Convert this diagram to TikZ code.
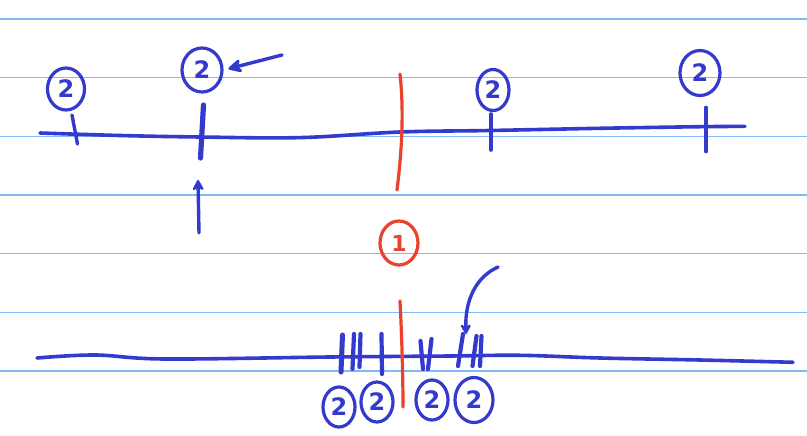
\documentclass[tikz,border=0pt]{standalone}
\usepackage{fontspec}
\setmainfont{DejaVu Sans}
\usetikzlibrary{shapes.geometric,arrows.meta}
\definecolor{ink}{RGB}{52,58,206}
\definecolor{redink}{RGB}{234,66,44}
\definecolor{rule}{RGB}{125,188,245}
\tikzset{
  rulestroke/.style={draw=rule,line width=1.5pt},
  axisstroke/.style={draw=ink,line width=3.6pt,line cap=round,line join=round},
  tickstroke/.style={draw=ink,line width=4.2pt,line cap=round},
  redstroke/.style={draw=redink,line width=3.2pt,line cap=round},
  numcircle/.style={ellipse,draw=ink,line width=3.2pt,text=ink,inner sep=0pt,
     font=\fontsize{24}{24}\selectfont\bfseries},
  redcircle/.style={ellipse,draw=redink,line width=3.2pt,text=redink,inner sep=0pt,
     font=\fontsize{22}{22}\selectfont\bfseries},
  arrowstroke/.style={draw=ink,line width=3.4pt,line cap=round,
     -{Stealth[length=17pt,width=17pt,round]}}
}
\begin{document}
\begin{tikzpicture}[x=1pt,y=-1pt]
\useasboundingbox (0,0) rectangle (807,436);
\fill[white] (0,0) rectangle (807,436);
% ruled lines
\foreach \yy in {19,77.7,136.4,195,253.7,312.4,371}
  \draw[rulestroke] (0,\yy) -- (807,\yy);
% top axis
\draw[axisstroke] plot[smooth,tension=0.6] coordinates
  {(40,133) (120,135.5) (200,137) (300,137.6) (400,132) (490,130.5) (600,128.3) (700,126.7) (745,126.4)};
% top ticks
\draw[tickstroke,line width=3.4pt] (72,115) -- (77.5,144);
\draw[tickstroke,line width=5.2pt] (203.5,105) -- (200.5,158);
\draw[tickstroke,line width=3.6pt] (490.7,114) -- (490.7,150);
\draw[tickstroke,line width=3.6pt] (706,107.5) -- (706,151.5);
% top circles
\node[numcircle,minimum width=37pt,minimum height=42pt] (c1) at (66,89) {2};
\node[numcircle,minimum width=40pt,minimum height=44pt] (c2) at (202,70) {2};
\node[numcircle,minimum width=32pt,minimum height=41pt] (c3) at (493,90) {2};
\node[numcircle,minimum width=40pt,minimum height=45pt] (c4) at (700,73) {2};
% arrows at top
\coordinate (a1) at (282,55);
\draw[arrowstroke,shorten >=5pt] (a1) -- (c2.east);
\coordinate (u1) at (199,233);
\coordinate (u2) at (198,180);
\draw[arrowstroke,-{Stealth[length=13pt,width=14pt,round]}] (u1) -- (u2);
% red line top
\draw[redstroke] (400,74) .. controls (404,110) and (402,150) .. (397,190);
% red circled 1
\node[redcircle,minimum width=38pt,minimum height=44pt] (r1) at (399,243) {1};
% bottom axis
\draw[axisstroke] plot[smooth,tension=0.6] coordinates
  {(37,358) (95,355) (165,359) (330,357) (450,356) (520,355.3) (600,358) (700,360) (793,362.3)};
% red line bottom
\draw[redstroke] (400,301) .. controls (402,340) and (403,380) .. (403,407);
% bottom ticks
\draw[tickstroke,line width=5pt] (342.5,335) -- (341,372);
\draw[tickstroke] (354,334) -- (352.5,369);
\draw[tickstroke] (360.5,334) -- (359.5,367);
\draw[tickstroke] (381.5,334) -- (382,374);
\draw[tickstroke] (420.5,341) -- (423,369);
\draw[tickstroke] (431.5,339) -- (428,369);
\draw[tickstroke] (463,334) -- (458,366);
\draw[tickstroke] (476.5,336) -- (472.5,366);
\draw[tickstroke] (481.5,336) -- (480,366);
% bottom circles
\node[numcircle,minimum width=32pt,minimum height=40pt] (b1) at (339,407) {2};
\node[numcircle,minimum width=32pt,minimum height=40pt] (b2) at (377,402) {2};
\node[numcircle,minimum width=32pt,minimum height=40pt] (b3) at (432,400) {2};
\node[numcircle,minimum width=38pt,minimum height=45pt] (b4) at (474,400) {2};
% curved arrow
\coordinate (k1) at (498,267);
\coordinate (k2) at (466,334);
\draw[arrowstroke,-{Stealth[length=12pt,width=13pt,round]}] (k1) .. controls (476,277) and (465,300) .. (k2);
\end{tikzpicture}
\end{document}
